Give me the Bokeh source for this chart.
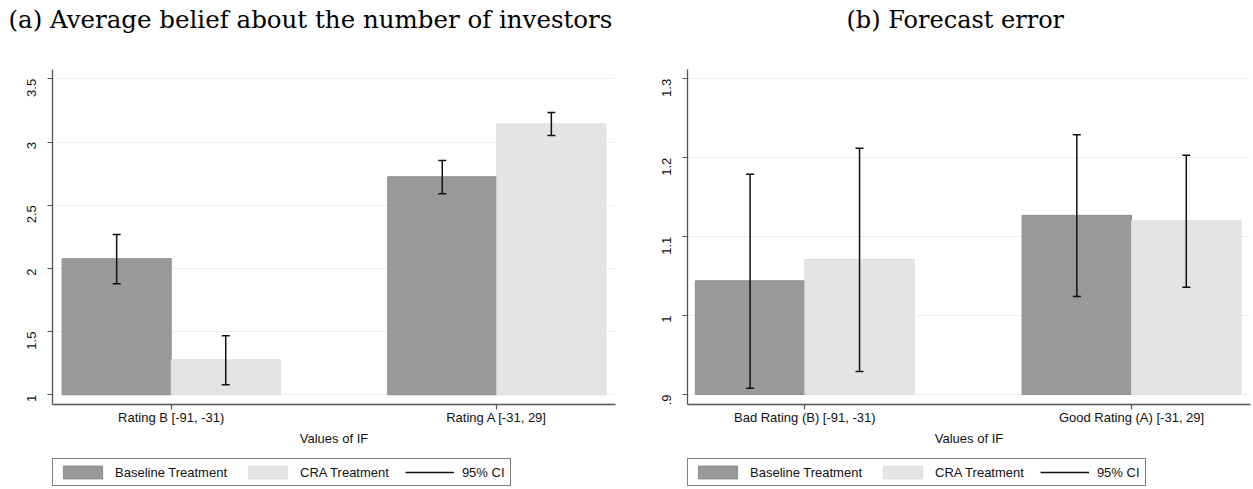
import math
from bokeh.plotting import figure
from bokeh.models import Range1d, FixedTicker, Legend, LegendItem, ColumnDataSource
from bokeh.layouts import row, column
from bokeh.embed import file_html
from bokeh.resources import INLINE

# ---------------- data ----------------
titles = ["(a) Average belief about the number of investors", "(b) Forecast error"]
x_label = "Values of IF"
series_names = ["Baseline Treatment", "CRA Treatment", "95% CI"]

cats_a = ["Rating B [-91, -31)", "Rating A [-31, 29]"]
base_a = [2.077, 2.725]
base_a_lo = [1.878, 2.590]
base_a_hi = [2.268, 2.853]
cra_a = [1.277, 3.144]
cra_a_lo = [1.079, 3.051]
cra_a_hi = [1.467, 3.233]
yticks_a = [1, 1.5, 2, 2.5, 3, 3.5]
ylabels_a = ["1", "1.5", "2", "2.5", "3", "3.5"]
floor_a = 1.0

cats_b = ["Bad Rating (B) [-91, -31)", "Good Rating (A) [-31, 29]"]
base_b = [1.044, 1.127]
base_b_lo = [0.908, 1.024]
base_b_hi = [1.179, 1.229]
cra_b = [1.071, 1.120]
cra_b_lo = [0.929, 1.036]
cra_b_hi = [1.212, 1.203]
yticks_b = [0.9, 1.0, 1.1, 1.2, 1.3]
ylabels_b = [".9", "1", "1.1", "1.2", "1.3"]
floor_b = 0.9

BASE_COL = "#999999"
BASE_LINE = "#8c8c8c"
CRA_COL = "#e4e4e4"
CRA_LINE = "#dedede"
GRID_COL = "#e9f1f2"
AXIS_COL = "#555555"
ERR_COL = "#111111"
FONT = "Liberation Sans"


def blank_fig(width, height, **kw):
    f = figure(width=width, height=height, x_range=Range1d(0, 1), y_range=Range1d(0, 1),
               output_backend="svg", toolbar_location=None,
               x_axis_location=None, y_axis_location=None, **kw)
    f.outline_line_color = None
    f.xgrid.grid_line_color = None
    f.ygrid.grid_line_color = None
    f.background_fill_color = "white"
    f.border_fill_color = "white"
    return f


def title_fig(text, width, offset, size):
    t = blank_fig(width, 35, min_border_left=0, min_border_right=0,
                  min_border_top=34, min_border_bottom=0, title=text)
    t.title.text_font = "DejaVu Serif"
    t.title.text_font_size = size
    t.title.text_font_style = "normal"
    t.title.text_color = "black"
    t.title.align = "left"
    t.title.vertical_align = "bottom"
    t.title.offset = offset
    t.title.standoff = 2
    return t


def legend_fig(width, lx, ly):
    f = blank_fig(width, 38, min_border=0)
    rb = f.vbar(x=[-10], top=[-9], bottom=-10, width=1, fill_color=BASE_COL, line_color=BASE_LINE)
    rc = f.vbar(x=[-10], top=[-9], bottom=-10, width=1, fill_color=CRA_COL, line_color=CRA_LINE)
    rs = f.segment(x0=[-10], y0=[-10], x1=[-10], y1=[-9], line_color=ERR_COL, line_width=1.3)
    legend = Legend(items=[LegendItem(label=series_names[0], renderers=[rb]),
                           LegendItem(label=series_names[1], renderers=[rc]),
                           LegendItem(label=series_names[2], renderers=[rs])],
                    orientation="horizontal", location=(lx, ly),
                    glyph_width=49, glyph_height=16, label_standoff=8,
                    label_text_font=FONT, label_text_font_size="13px",
                    label_text_color="#111111",
                    border_line_color="black", border_line_width=1,
                    padding=5, spacing=16, margin=0,
                    background_fill_color="white")
    f.add_layout(legend, "center")
    return f


def make_panel(cats, base, base_lo, base_hi, cra, cra_lo, cra_hi,
               yticks, ylabels, floor, yr, xr, width, border_left, border_right):
    p = figure(width=width, height=416, x_range=Range1d(*xr), y_range=Range1d(*yr),
               output_backend="svg", toolbar_location=None,
               min_border_left=border_left, min_border_right=border_right,
               min_border_top=34, min_border_bottom=47)
    p.outline_line_color = None
    p.background_fill_color = "white"
    p.border_fill_color = "white"

    half = 0.1675
    idx = list(range(len(cats)))
    src_base = ColumnDataSource(dict(x=[i - half for i in idx], top=base,
                                     lo=base_lo, hi=base_hi))
    src_cra = ColumnDataSource(dict(x=[i + half for i in idx], top=cra,
                                    lo=cra_lo, hi=cra_hi))

    p.vbar(x="x", top="top", bottom=floor, width=2 * half, source=src_base,
           fill_color=BASE_COL, line_color=BASE_LINE, line_width=1)
    p.vbar(x="x", top="top", bottom=floor, width=2 * half, source=src_cra,
           fill_color=CRA_COL, line_color=CRA_LINE, line_width=1)

    for src in (src_base, src_cra):
        p.segment(x0="x", y0="lo", x1="x", y1="hi", source=src,
                  line_color=ERR_COL, line_width=1.5)
        p.scatter(x="x", y="lo", source=src, marker="dash", size=8,
                  line_color=ERR_COL, line_width=1.5)
        p.scatter(x="x", y="hi", source=src, marker="dash", size=8,
                  line_color=ERR_COL, line_width=1.5)

    p.xaxis.ticker = FixedTicker(ticks=idx)
    p.xaxis.major_label_overrides = {i: c for i, c in zip(idx, cats)}
    p.yaxis.ticker = FixedTicker(ticks=yticks)
    p.yaxis.major_label_overrides = {t: l for t, l in zip(yticks, ylabels)}
    p.yaxis.major_label_orientation = math.pi / 2
    for ax in (p.xaxis[0], p.yaxis[0]):
        ax.axis_line_color = AXIS_COL
        ax.axis_line_width = 1.3
        ax.major_tick_line_color = AXIS_COL
        ax.major_tick_line_width = 1.2
        ax.major_tick_in = 0
        ax.major_tick_out = 5
        ax.minor_tick_line_color = None
        ax.major_label_text_font = FONT
        ax.major_label_text_font_size = "13px"
        ax.major_label_text_color = "#111111"
    p.yaxis.major_label_standoff = 16
    p.xaxis.major_label_standoff = 0
    p.xaxis.axis_label = x_label
    p.xaxis.axis_label_text_font = FONT
    p.xaxis.axis_label_text_font_size = "13px"
    p.xaxis.axis_label_text_font_style = "normal"
    p.xaxis.axis_label_text_color = "#111111"
    p.xaxis.axis_label_standoff = 3

    p.xgrid.grid_line_color = None
    p.ygrid.grid_line_color = GRID_COL
    p.ygrid.grid_line_width = 1.2
    return p


W1, W2 = 634, 619

p1 = make_panel(cats_a, base_a, base_a_lo, base_a_hi, cra_a, cra_a_lo, cra_a_hi,
                yticks_a, ylabels_a, floor_a, (0.923, 3.574), (-0.3645, 1.3645),
                W1, 52, 19)
p2 = make_panel(cats_b, base_b, base_b_lo, base_b_hi, cra_b, cra_b_lo, cra_b_hi,
                yticks_b, ylabels_b, floor_b, (0.8873, 1.3118), (-0.359, 1.364),
                W2, 53, 3)

t1 = title_fig(titles[0], W1, -44, "24.5px")
t2 = title_fig(titles[1], W2, 159, "24px")
l1 = legend_fig(W1, 0, 3)
l2 = legend_fig(W2, 0, 3)

layout = row(column(t1, p1, l1), column(t2, p2, l2))
open("out.html", "w").write(file_html(layout, INLINE))
